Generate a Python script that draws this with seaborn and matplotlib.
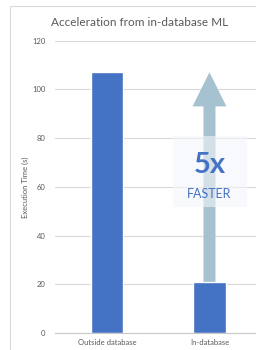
import matplotlib
matplotlib.use("Agg")
import matplotlib.pyplot as plt
import seaborn as sns
import pandas as pd
from matplotlib.patches import Rectangle

# chart data
categories = ["Outside database", "In-database"]
exec_times = [107, 21]
speedup_label = "5x"
speedup_sub = "FASTER"

BAR_BLUE = "#4472C4"
ARROW_BLUE = "#a6c1cf"
GRID = "#d9d9d9"
TEXT = "#595959"

sns.set_theme(style="white")
plt.rcParams["font.family"] = ["Lato", "DejaVu Sans"]

df = pd.DataFrame({"category": categories, "time": exec_times})

fig = plt.figure(figsize=(2.56, 3.5), dpi=100)
ax = fig.add_axes([55 / 256, 17 / 350, 201 / 256, 292.4 / 350])

sns.barplot(data=df, x="category", y="time", color=BAR_BLUE, width=0.32,
            saturation=1, ax=ax, zorder=2)

ax.set_xlim(-0.507, 1.454)
ax.set_ylim(0, 120)
ax.set_yticks(range(0, 121, 20))
ax.yaxis.grid(True, color=GRID, linewidth=0.8, zorder=0)
ax.set_axisbelow(True)
for side in ["top", "right", "left"]:
    ax.spines[side].set_visible(False)
ax.spines["bottom"].set_color("#c8c8c8")
ax.spines["bottom"].set_linewidth(0.8)
ax.tick_params(axis="both", length=0, labelsize=5.5, colors=TEXT, pad=4)
ax.tick_params(axis="y", pad=7)
ax.set_xlabel("")
ax.set_ylabel("Execution Time (s)", fontsize=5.5, color=TEXT, labelpad=2)

# speed-up arrow from the in-database bar
ax.arrow(1, exec_times[1], 0, 107 - exec_times[1], width=0.117, head_width=0.33,
         head_length=14, length_includes_head=True, color=ARROW_BLUE,
         linewidth=0, zorder=3)
ax.add_patch(Rectangle((0.644, 51.7), 0.722, 29.1, facecolor="#f3f6fa",
                       edgecolor="none", alpha=0.6, zorder=4))
ax.text(1, 68.9, speedup_label, ha="center", va="center", fontsize=21,
        fontweight="bold", color=BAR_BLUE, zorder=5)
ax.text(1, 57.0, speedup_sub, ha="center", va="center", fontsize=9,
        color=BAR_BLUE, zorder=5)

fig.text(140 / 256, 1 - 22 / 350, "Acceleration from in-database ML",
         ha="center", va="center", fontsize=8.5, color=TEXT)

# light frame around the chart
fig.add_artist(Rectangle((10 / 256, -0.1), 1.2, 1 - 6 / 350 + 0.1,
                         transform=fig.transFigure, fill=False,
                         edgecolor=GRID, linewidth=0.8))

fig.savefig("out.png", dpi=100)
